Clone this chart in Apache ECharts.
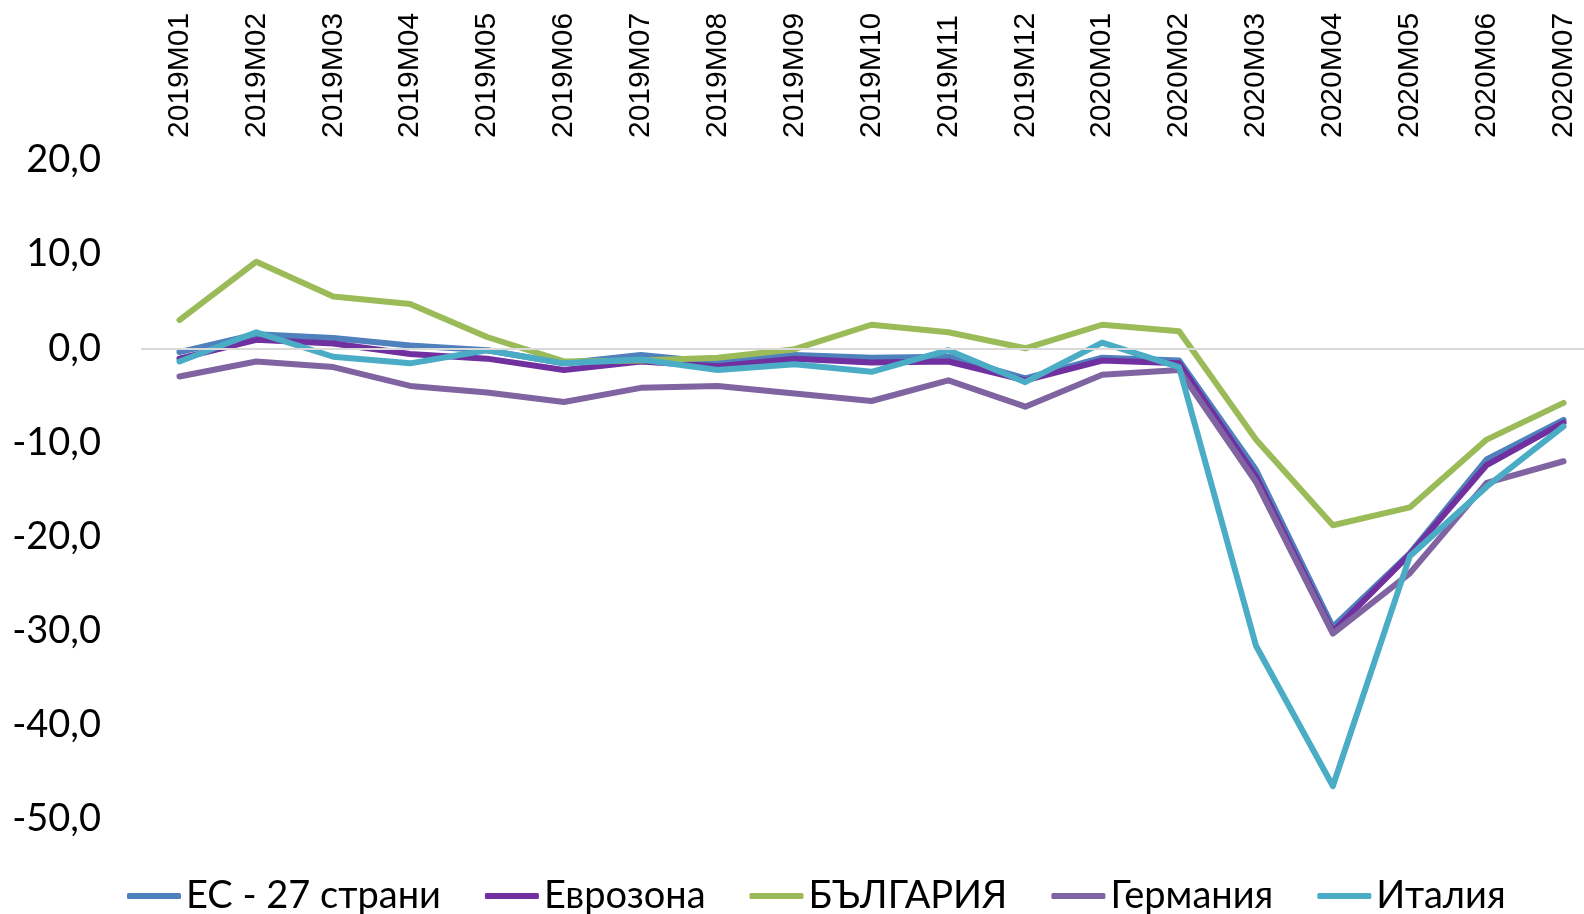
<!DOCTYPE html>
<html>
<head>
<meta charset="utf-8">
<script src="https://cdn.jsdelivr.net/npm/echarts@6/dist/echarts.min.js"></script>
<style>
  html, body { margin: 0; padding: 0; background: #fff; }
  #chart { width: 1584px; height: 914px; }
</style>
</head>
<body>
<div id="chart"></div>
<script>
const categories = ['2019M01', '2019M02', '2019M03', '2019M04', '2019M05', '2019M06', '2019M07', '2019M08', '2019M09', '2019M10',
  '2019M11', '2019M12', '2020M01', '2020M02', '2020M03', '2020M04', '2020M05', '2020M06', '2020M07']

const eu27 = [-0.4, 1.5, 1.1, 0.3, -0.2, -1.6, -0.7, -1.5, -0.7, -1.0, -0.9, -3.2, -1.0, -1.3, -12.9, -29.6, -21.8, -11.8, -7.6]
const eurozone = [-1.1, 0.9, 0.5, -0.6, -1.1, -2.3, -1.4, -1.9, -1.1, -1.5, -1.4, -3.4, -1.3, -1.6, -13.6, -30.1, -21.9, -12.4, -7.9]
const bulgaria = [3.0, 9.2, 5.5, 4.7, 1.2, -1.4, -1.3, -1.0, -0.1, 2.5, 1.7, 0.0, 2.5, 1.8, -9.7, -18.8, -16.9, -9.7, -5.8]
const germany = [-3.0, -1.4, -2.0, -4.0, -4.7, -5.7, -4.2, -4.0, -4.8, -5.6, -3.4, -6.2, -2.8, -2.3, -14.2, -30.3, -23.9, -14.3, -12.0]
const italy = [-1.4, 1.7, -0.9, -1.6, -0.2, -1.6, -1.2, -2.3, -1.7, -2.5, -0.2, -3.6, 0.6, -2.0, -31.6, -46.5, -22.1, -14.7, -8.3]

const seriesNames = ['ЕС - 27 страни', 'Еврозона', 'БЪЛГАРИЯ', 'Германия', 'Италия']
const seriesColors = ['#4f81bd', '#7030a0', '#9bbb59', '#8064a2', '#4bacc6']
const seriesValues = [eu27, eurozone, bulgaria, germany, italy]

const yMin = -50
const yMax = 20
const yStep = 10

const chart = echarts.init(document.getElementById('chart'))

const series = seriesNames.map((name, i) => ({
  name: name,
  type: 'line',
  symbol: 'none',
  data: seriesValues[i],
  color: seriesColors[i],
  lineStyle: { width: 6, cap: 'round', join: 'round' },
  animation: false
}))

// светла линия на нулата
series[0].markLine = {
  silent: true,
  symbol: 'none',
  label: { show: false },
  lineStyle: { color: '#d9d9d9', width: 2, type: 'solid' },
  data: [{ yAxis: 0 }]
}

chart.setOption({
  backgroundColor: '#fff',
  textStyle: { fontFamily: 'Lato' },
  grid: {
    left: 141,
    width: 1461,
    top: 160,
    bottom: 95,
    outerBoundsMode: 'none'
  },
  legend: {
    left: 122,
    top: 872,
    itemWidth: 54,
    itemHeight: 6,
    itemGap: 44,
    icon: 'roundRect',
    textStyle: { fontSize: 38, color: '#000', fontFamily: 'Lato' },
    data: seriesNames
  },
  xAxis: {
    type: 'category',
    position: 'top',
    boundaryGap: true,
    data: categories,
    axisLine: { show: false },
    axisTick: { show: false },
    axisLabel: {
      rotate: 90,
      margin: 22,
      fontSize: 30,
      color: '#000',
      fontFamily: 'Liberation Sans'
    }
  },
  yAxis: {
    type: 'value',
    min: yMin,
    max: yMax,
    interval: yStep,
    splitLine: { show: false },
    axisLine: { show: false },
    axisTick: { show: false },
    axisLabel: {
      margin: 40,
      fontSize: 38,
      color: '#000',
      fontFamily: 'Lato',
      formatter: v => v.toFixed(1).replace('.', ',')
    }
  },
  series: series
})
</script>
</body>
</html>
